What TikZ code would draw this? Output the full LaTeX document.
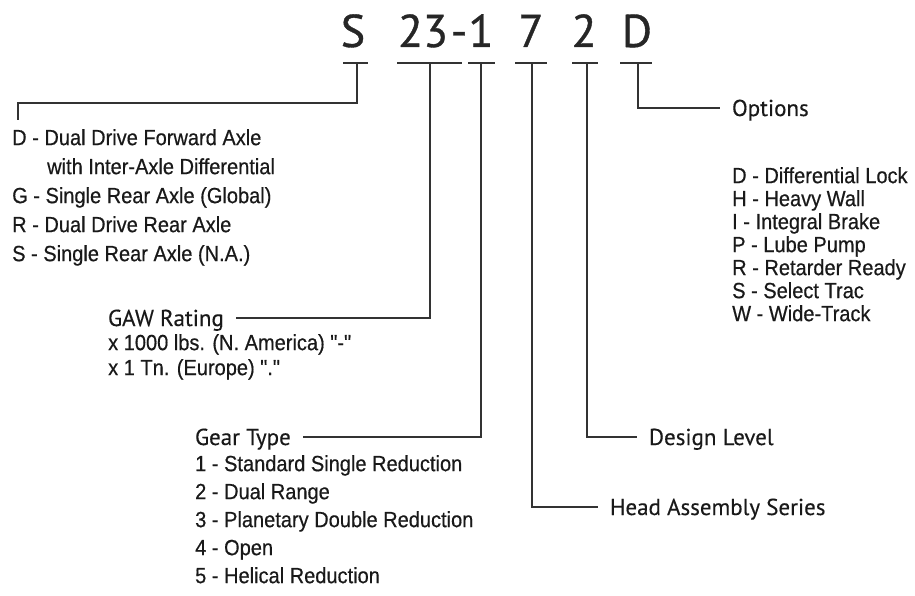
\documentclass[tikz,border=0pt]{standalone}
\usepackage{fontspec}
\newfontfamily\headfont{PT Sans}[FakeBold=0.3]
\newfontfamily\codefont{PT Sans}[FakeBold=0.8]
\newfontfamily\listfont{Liberation Sans}[FakeStretch=0.91,FakeBold=0.5]
\usetikzlibrary{positioning}

\begin{document}
\begin{tikzpicture}[x=1pt,y=-1pt,
  lead/.style={draw=black!80,line width=1.3pt},
  code/.style={font=\codefont\fontsize{46}{46}\selectfont,text=black!85,inner sep=0pt,anchor=base},
  head/.style={font=\headfont\fontsize{23}{26}\selectfont,text=black!90,inner ysep=0pt,inner xsep=0pt,outer xsep=12pt,text height=16pt,text depth=0pt},
  lst/.style={font=\listfont\fontsize{22}{#1}\selectfont,text=black!90,align=left,inner sep=0pt,anchor=north west}]
\useasboundingbox (0,0) rectangle (915,596);

% model code
\node[code] (code_s) at (353,47) {S};
\node[code] (code_23) at (423,47) {23};
\node[code] (code_dash) at (459,47) {-};
\node[code] (code_1) at (481,47) {1};
\node[code] (code_7) at (531,47) {7};
\node[code] (code_2) at (584,47) {2};
\node[code] (code_d) at (637,47) {D};

\coordinate (t_s) at (357,63);
\coordinate (t_23) at (430,63);
\coordinate (t_1) at (481,63);
\coordinate (t_7) at (532,63);
\coordinate (t_2) at (587,63);
\coordinate (t_d) at (638,63);
\foreach \c/\l/\r in {t_s/14/11,t_23/33/32,t_1/13/14,t_7/17/15,t_2/15/11,t_d/18/14}
  \draw[lead] ([xshift=-\l pt]\c) -- ([xshift=\r pt]\c);

% labels
\node[head,anchor=west] (lbl_gaw) at (96,318) {GAW Rating};
\node[head,anchor=west] (lbl_gear) at (183,437) {Gear Type};
\node[head,anchor=west] (lbl_opt) at (720,108) {Options};
\node[head,anchor=west] (lbl_design) at (637,437) {Design Level};
\node[head,anchor=west] (lbl_head) at (598,507) {Head Assembly Series};

% lists
\node[lst=29] (lst_axle) at (12,129) {D - Dual Drive Forward Axle\\\hspace*{35pt}with Inter-Axle Differential\\G - Single Rear Axle (Global)\\R - Dual Drive Rear Axle\\S - Single Rear Axle (N.A.)};
\node[lst=25] (lst_gaw) at (108,334) {x 1000 lbs. (N. America) "-"\\x 1 Tn. (Europe) "."};
\node[lst=28] (lst_gear) at (195,455) {1 - Standard Single Reduction\\2 - Dual Range\\3 - Planetary Double Reduction\\4 - Open\\5 - Helical Reduction};
\node[lst=23] (lst_opt) at (732,167) {D - Differential Lock\\H - Heavy Wall\\I - Integral Brake\\P - Lube Pump\\R - Retarder Ready\\S - Select Trac\\W - Wide-Track};

% leaders
\coordinate (j_s) at (18,103);
\coordinate (k_s) at (18,120);
\draw[lead] (t_s) |- (j_s) -- (k_s);
\draw[lead] (t_23) |- (lbl_gaw.east);
\draw[lead] (t_1) |- (lbl_gear.east);
\draw[lead] (t_7) |- (lbl_head.west);
\draw[lead] (t_2) |- (lbl_design.west);
\draw[lead] (t_d) |- (lbl_opt.west);
\end{tikzpicture}
\end{document}
